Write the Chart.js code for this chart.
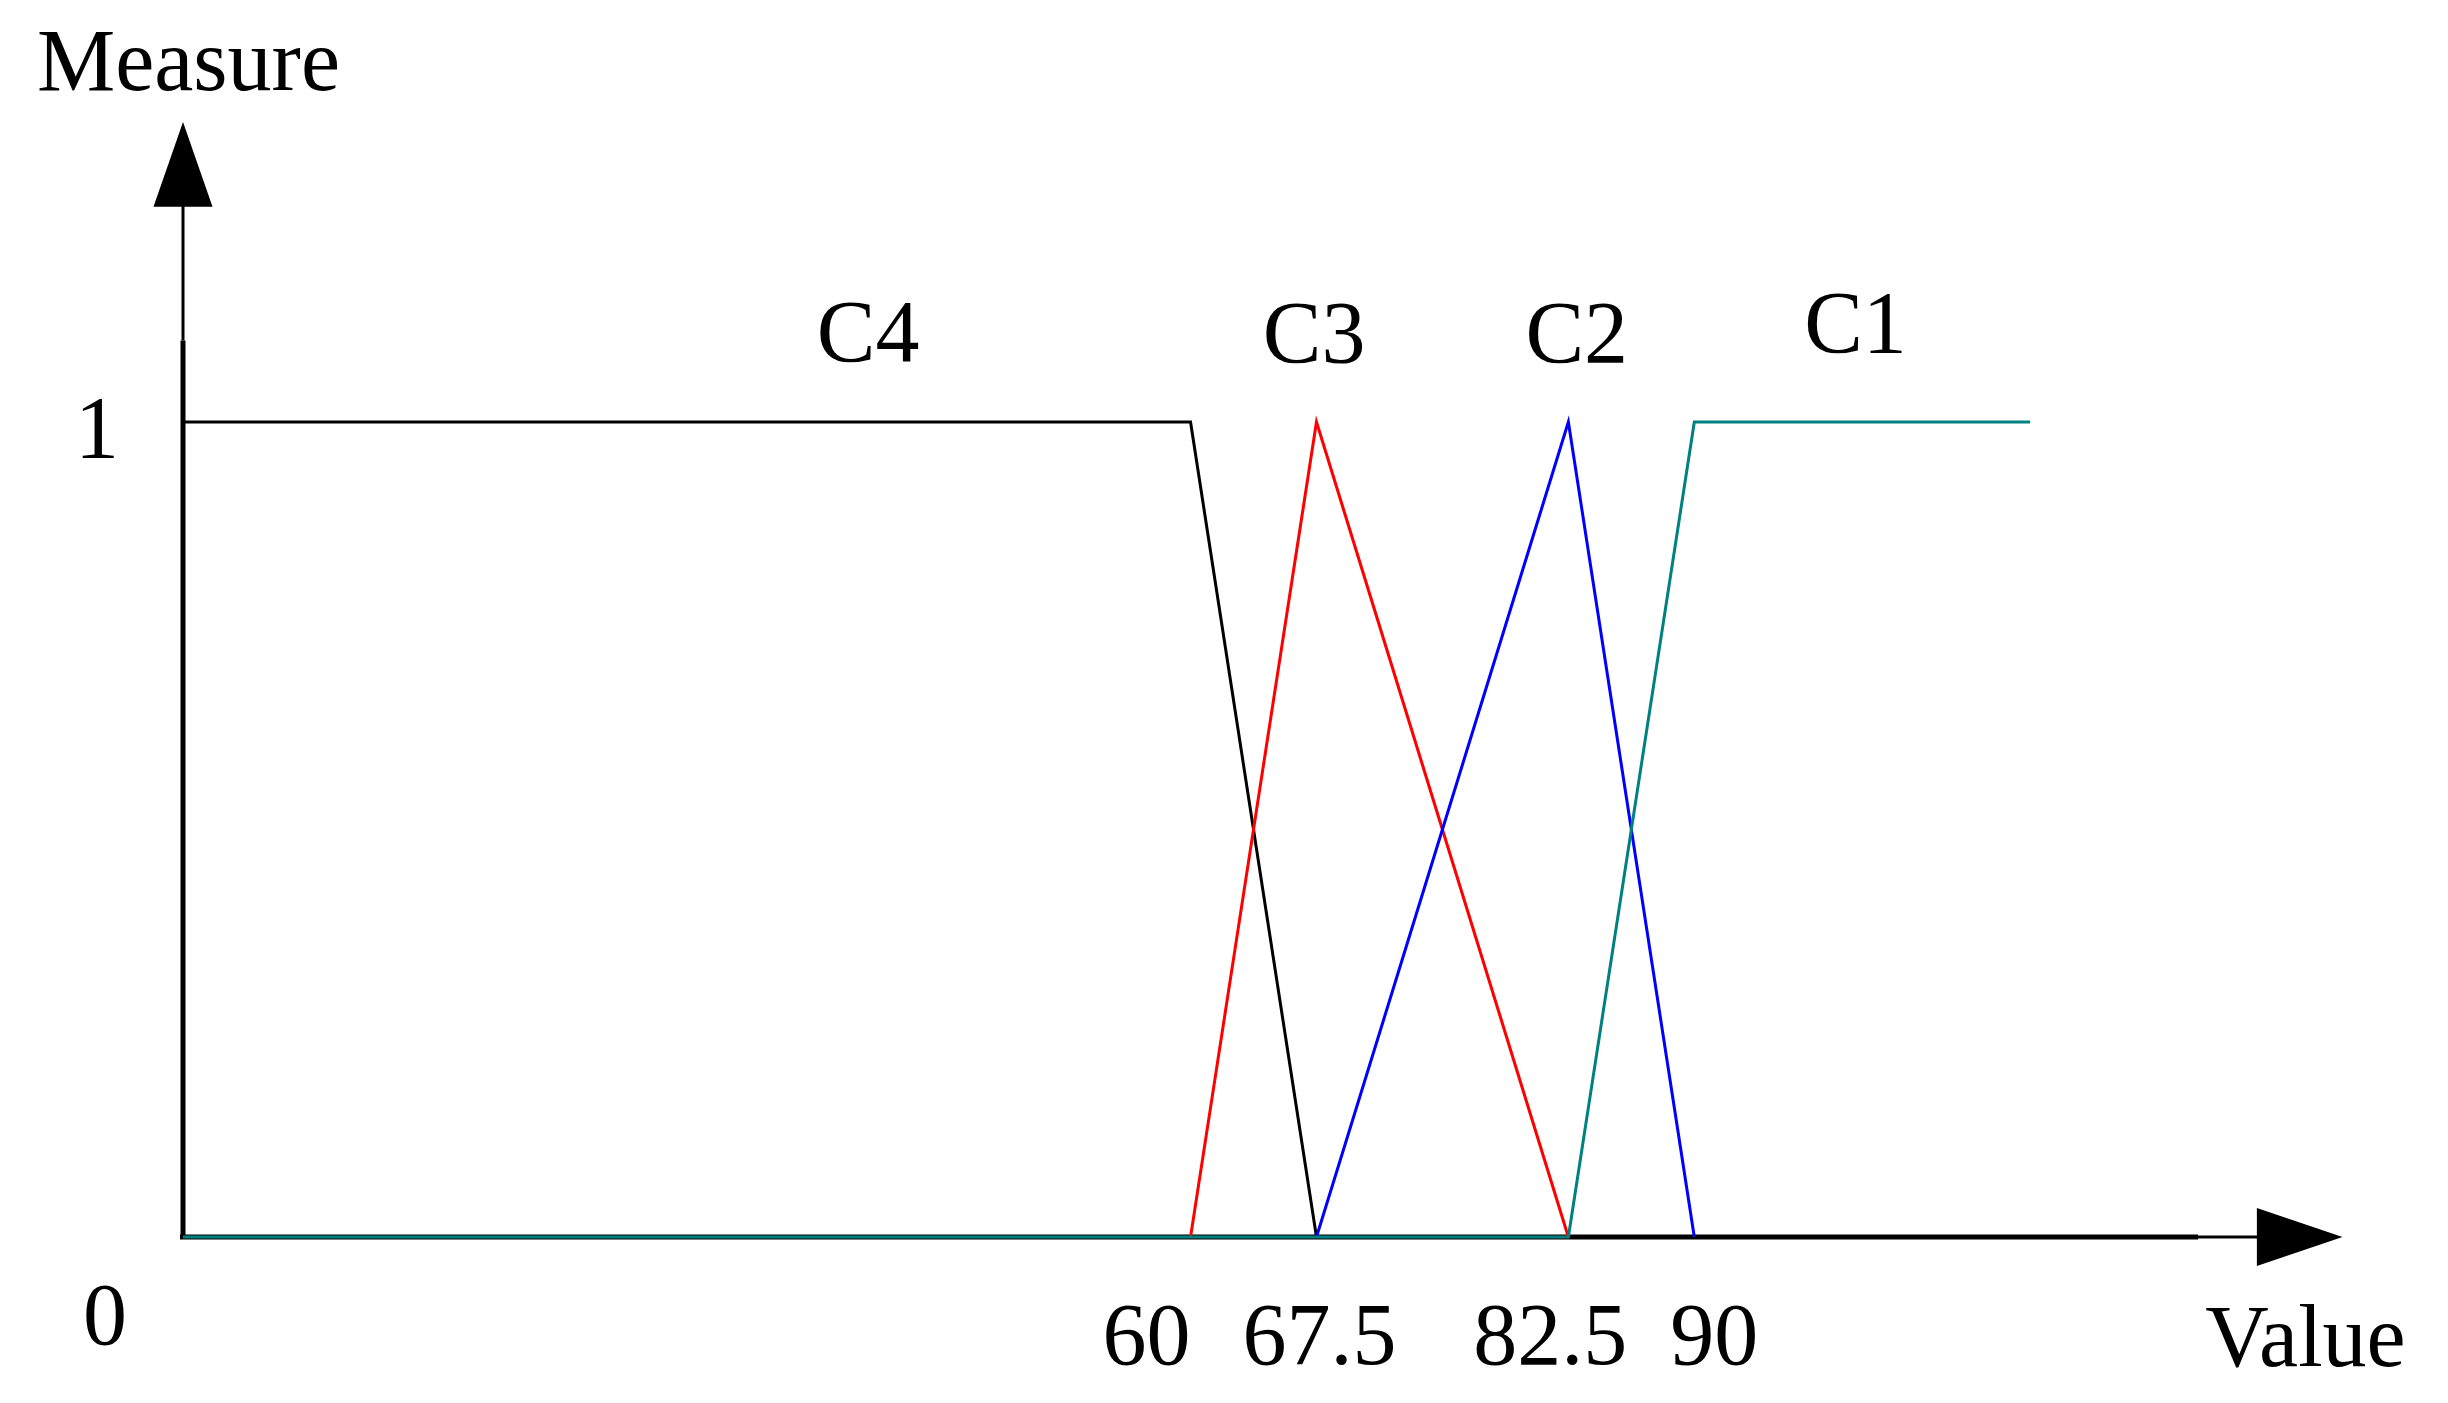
<!DOCTYPE html>
<html>
<head>
<meta charset="utf-8">
<title>Membership functions C1-C4</title>
<script src="https://cdn.jsdelivr.net/npm/chart.js@4.4.0/dist/chart.umd.min.js"></script>
<style>
  html, body { margin: 0; padding: 0; background: #fff; }
  #wrap { width: 2448px; height: 1403px; }
</style>
</head>
<body>
<div id="wrap"><canvas id="chart" width="2448" height="1403"></canvas></div>
<script>
// -- DATA -- //
const curveNames = ['C4', 'C3', 'C2', 'C1']
const c4X = [0, 60, 67.5]
const c4Y = [1, 1, 0]
const c3X = [60, 67.5, 82.5]
const c3Y = [0, 1, 0]
const c2X = [67.5, 82.5, 90]
const c2Y = [0, 1, 0]
const c1X = [0, 82.5, 90, 110]
const c1Y = [0, 0, 1, 1]

const xTickValues = [60, 67.5, 82.5, 90]
const xTickLabels = ['60', '67.5', '82.5', '90']
const yTickValues = [1]
const yTickLabels = ['1']
const originLabel = '0'
const xTitle = 'Value'
const yTitle = 'Measure'

// -- STYLE -- //
const FONT = '88px "Liberation Serif", "Times New Roman", serif'
const colors = { C4: '#000000', C3: '#ff0000', C2: '#0000ff', C1: '#008080' }
const xTickNudge = [-44, 3, -18, 20]            // labels are not centred on their ticks in the original
const curveLabelAt = [[40.8, 1.075], [67.36, 1.074], [83.0, 1.074], [99.6, 1.086]]

const toPoints = (xs, ys) => xs.map((v, i) => ({ x: v, y: ys[i] }))

// axis lines + arrow heads, drawn under the curves
const arrowAxes = {
  id: 'arrowAxes',
  beforeDatasetsDraw(chart) {
    const { ctx, scales: { x, y } } = chart
    const x0 = x.getPixelForValue(0)
    const y0 = y.getPixelForValue(0)
    const tipX = x.getPixelForValue(128.6)
    const baseX = x.getPixelForValue(123.5)
    const tipY = y.getPixelForValue(1.368)
    const baseY = y.getPixelForValue(1.264)
    ctx.save()
    ctx.strokeStyle = '#000'
    ctx.fillStyle = '#000'
    ctx.lineCap = 'butt'

    // thick part of both axes
    ctx.lineWidth = 5
    ctx.beginPath()
    ctx.moveTo(x0 - 3, y0)
    ctx.lineTo(x.getPixelForValue(120), y0)
    ctx.moveTo(x0, y0 + 2.5)
    ctx.lineTo(x0, y.getPixelForValue(1.1))
    ctx.stroke()

    // thin part up to the arrow heads
    ctx.lineWidth = 3
    ctx.beginPath()
    ctx.moveTo(x.getPixelForValue(120), y0)
    ctx.lineTo(baseX + 1, y0)
    ctx.moveTo(x0, y.getPixelForValue(1.1))
    ctx.lineTo(x0, baseY - 1)
    ctx.stroke()

    // arrow heads
    ctx.beginPath()
    ctx.moveTo(tipX, y0)
    ctx.lineTo(baseX, y0 - 29)
    ctx.lineTo(baseX, y0 + 29)
    ctx.closePath()
    ctx.fill()

    ctx.beginPath()
    ctx.moveTo(x0, tipY)
    ctx.lineTo(x0 - 29.5, baseY)
    ctx.lineTo(x0 + 29.5, baseY)
    ctx.closePath()
    ctx.fill()
    ctx.restore()
  },

  afterDatasetsDraw(chart) {
    const { ctx, scales: { x, y } } = chart
    const x0 = x.getPixelForValue(0)
    const y0 = y.getPixelForValue(0)
    ctx.save()
    ctx.font = FONT
    ctx.fillStyle = '#000'
    ctx.textBaseline = 'alphabetic'

    // tick labels
    ctx.textAlign = 'center'
    xTickValues.forEach((v, i) => {
      ctx.fillText(xTickLabels[i], x.getPixelForValue(v) + xTickNudge[i], y0 + 127)
    })
    yTickValues.forEach((v, i) => {
      ctx.fillText(yTickLabels[i], x0 - 86, y.getPixelForValue(v) + 35)
    })
    ctx.fillText(originLabel, x0 - 78, y0 + 107)

    // curve names
    curveNames.forEach((name, i) => {
      const [lx, ly] = curveLabelAt[i]
      ctx.fillText(name, x.getPixelForValue(lx), y.getPixelForValue(ly))
    })

    // axis titles
    ctx.fillText(xTitle, x.getPixelForValue(128.6) - 37, y0 + 129)
    ctx.textAlign = 'left'
    ctx.fillText(yTitle, x0 - 146, y.getPixelForValue(1.368) - 32)
    ctx.restore()
  }
}

const line = (name, xs, ys, order) => ({
  label: name,
  data: toPoints(xs, ys),
  showLine: true,
  borderColor: colors[name],
  borderWidth: 3,
  borderJoinStyle: 'miter',
  pointRadius: 0,
  tension: 0,
  fill: false,
  clip: false,
  order: order
})

new Chart(document.getElementById('chart'), {
  type: 'scatter',
  data: {
    datasets: [
      line('C4', c4X, c4Y, 3),
      line('C3', c3X, c3Y, 2),
      line('C2', c2X, c2Y, 1),
      line('C1', c1X, c1Y, 0)
    ]
  },
  options: {
    responsive: false,
    animation: false,
    events: [],
    layout: { padding: { left: 183, right: 82, top: 96, bottom: 166 } },
    plugins: { legend: { display: false }, tooltip: { enabled: false } },
    scales: {
      x: { type: 'linear', min: 0, max: 130, display: false },
      y: { type: 'linear', min: 0, max: 1.4, display: false }
    }
  },
  plugins: [arrowAxes]
})
</script>
</body>
</html>
